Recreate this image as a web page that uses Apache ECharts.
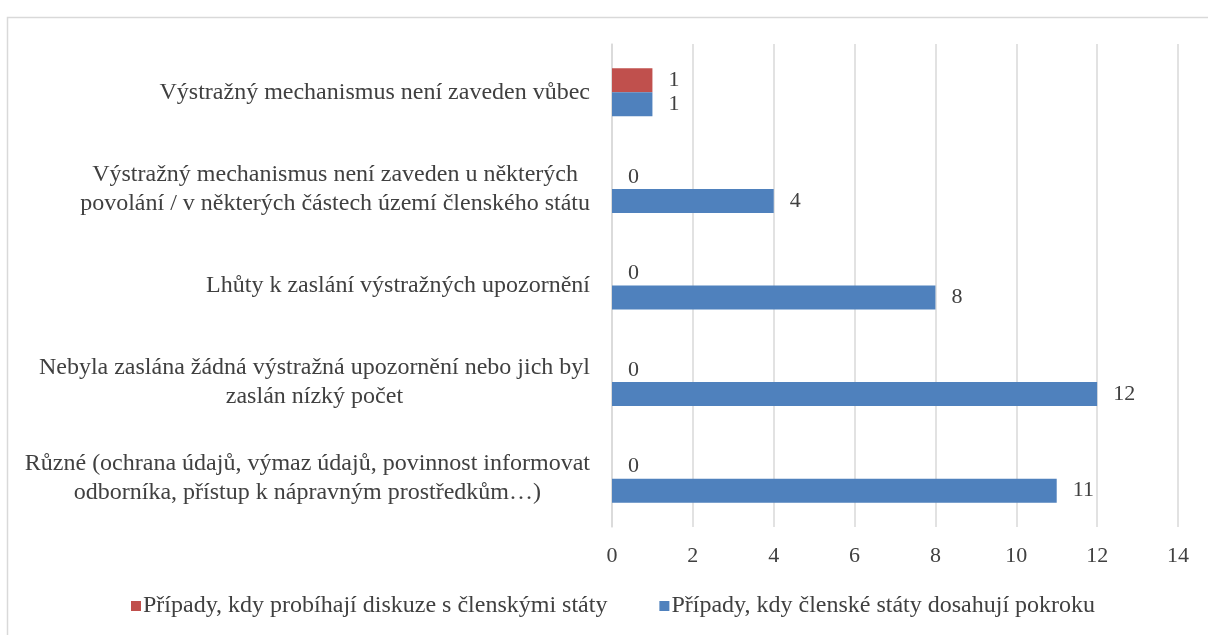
<!DOCTYPE html>
<html>
<head>
<meta charset="utf-8">
<script src="https://cdn.jsdelivr.net/npm/echarts@6/dist/echarts.min.js"></script>
<style>
  html, body { margin: 0; padding: 0; background: #fff; }
  #chart { width: 1208px; height: 635px; }
</style>
</head>
<body>
<div id="chart"></div>
<script>
// categories, bottom to top (category axis starts at the bottom)
var categories = [
  'Různé (ochrana údajů, výmaz údajů, povinnost informovat\nodborníka, přístup k nápravným prostředkům…)',
  'Nebyla zaslána žádná výstražná upozornění nebo jich byl\nzaslán nízký počet',
  'Lhůty k zaslání výstražných upozornění',
  'Výstražný mechanismus není zaveden u některých\npovolání / v některých částech území členského státu',
  'Výstražný mechanismus není zaveden vůbec'
];
var seriesNames = [
  'Případy, kdy probíhají diskuze s členskými státy',
  'Případy, kdy členské státy dosahují pokroku'
];
var discussionValues = [0, 0, 0, 0, 1];
var progressValues = [11, 12, 8, 4, 1];
var xTicks = [0, 2, 4, 6, 8, 10, 12, 14];

var font = '"Liberation Serif", "DejaVu Serif", serif';
var textColor = '#404040';

var chart = echarts.init(document.getElementById('chart'));

function barLabel() {
  return { show: true, position: 'right', distance: 16, fontFamily: font, fontSize: 22, color: textColor };
}

var option = {
  animation: false,
  textStyle: { fontFamily: font },
  graphic: [{
    type: 'rect',
    left: 5, top: 15,
    shape: { width: 1230, height: 640 },
    style: { fill: 'none', stroke: '#d9d9d9', lineWidth: 1.5 },
    silent: true
  }],
  grid: { left: 612, right: 30, top: 44, bottom: 108, containLabel: false },
  legend: {
    data: seriesNames,
    bottom: 12,
    left: 126,
    itemWidth: 10,
    itemHeight: 10,
    itemGap: 52,
    icon: 'rect',
    textStyle: { fontFamily: font, fontSize: 24, color: textColor, padding: [0, 0, 0, -3] }
  },
  xAxis: {
    type: 'value',
    min: xTicks[0],
    max: xTicks[xTicks.length - 1],
    interval: 2,
    axisLine: { show: false },
    axisTick: { show: false },
    axisLabel: { fontFamily: font, fontSize: 22, color: textColor, margin: 18 },
    splitLine: { lineStyle: { color: '#d9d9d9', width: 1.5 } }
  },
  yAxis: {
    type: 'category',
    data: categories,
    axisLine: { lineStyle: { color: '#d9d9d9', width: 1.5 } },
    axisTick: { show: false },
    axisLabel: {
      margin: 22,
      align: 'right',
      formatter: function (v) {
        return v.split('\n').map(function (s) { return '{c|' + s + '}'; }).join('\n');
      },
      rich: {
        c: { fontFamily: font, fontSize: 24, color: textColor, lineHeight: 29, align: 'center' }
      }
    }
  },
  series: [
    {
      name: seriesNames[0],
      type: 'bar',
      data: discussionValues,
      barWidth: 24,
      barGap: '0%',
      itemStyle: { color: '#c0504d' },
      label: barLabel()
    },
    {
      name: seriesNames[1],
      type: 'bar',
      data: progressValues,
      barWidth: 24,
      barGap: '0%',
      itemStyle: { color: '#4f81bd' },
      label: barLabel()
    }
  ]
};

chart.setOption(option);
</script>
</body>
</html>
